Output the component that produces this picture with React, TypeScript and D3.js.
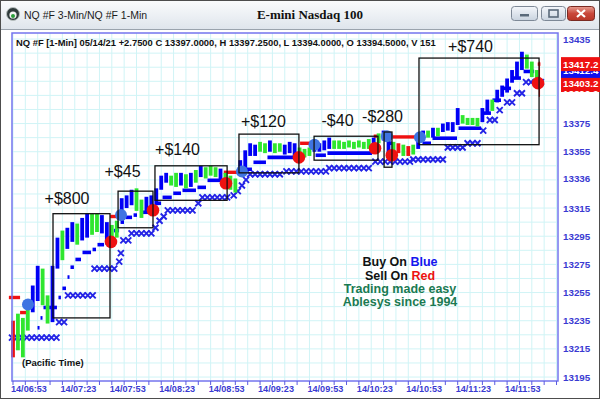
import React from "react";
import * as d3 from "d3";

const W = 600;
const H = 399;

// axis labels
const timeLabels = ["14/06:53", "14/07:23", "14/07:53", "14/08:23", "14/08:53", "14/09:23",
  "14/09:53", "14/10:23", "14/10:53", "14/11:23", "14/11:53"];
const priceLabels = [13435, 13375, 13355, 13336, 13315, 13295, 13275, 13255, 13235, 13215, 13195];

// price bars, one every 3 minutes after 06:53 (Pacific)
const barHigh = [13235, 13240, 13237, 13246, 13260, 13274, 13272, 13253, 13274, 13294,
  13299, 13301, 13305, 13304, 13308, 13311, 13311, 13311, 13310, 13305,
  13303, 13306, 13322, 13324, 13328, 13329, 13321, 13323, 13324, 13329,
  13338, 13340, 13338, 13340, 13340, 13339, 13340, 13342, 13345, 13344,
  13345, 13344, 13343, 13340, 13338, 13336, 13349, 13356, 13361, 13360,
  13362, 13361, 13363, 13361, 13361, 13360, 13362, 13361, 13358, 13357,
  13358, 13362, 13361, 13363, 13365, 13363, 13363, 13362, 13363, 13362,
  13363, 13362, 13364, 13365, 13368, 13370, 13363, 13362, 13361, 13360,
  13359, 13360, 13365, 13370, 13370, 13372, 13372, 13375, 13376, 13376,
  13386, 13381, 13379, 13379, 13379, 13386, 13392, 13392, 13399, 13402,
  13407, 13413, 13419, 13426, 13424, 13419, 13413];
const barLow = [13209, 13214, 13209, 13228, 13241, 13249, 13246, 13233, 13234, 13272,
  13278, 13286, 13291, 13289, 13292, 13294, 13296, 13298, 13297, 13290,
  13289, 13294, 13306, 13315, 13317, 13313, 13308, 13312, 13313, 13317,
  13328, 13333, 13331, 13330, 13331, 13329, 13330, 13333, 13337, 13336,
  13338, 13337, 13335, 13329, 13328, 13326, 13338, 13343, 13352, 13352,
  13355, 13354, 13355, 13354, 13355, 13353, 13354, 13351, 13350, 13351,
  13352, 13355, 13355, 13356, 13357, 13357, 13357, 13357, 13358, 13357,
  13358, 13357, 13357, 13357, 13361, 13363, 13352, 13354, 13354, 13352,
  13352, 13353, 13357, 13363, 13365, 13365, 13366, 13369, 13370, 13369,
  13374, 13375, 13374, 13374, 13373, 13376, 13383, 13384, 13390, 13394,
  13397, 13404, 13408, 13413, 13414, 13408, 13402];
const barColor = ("rgggbbggbb" + "gbbgbbggbb" + "ggbbbggbbb" + "bbggbgbgbg" + "ggbgggbbbb" +
  "ggbggbbbgg" + "gbbbbggggg" + "gggbgbbgrg" + "rgbbgbgbbb" + "bggggbbgbb" + "bbbbggg").split("");
const barMinute = d3.range(0, 319, 3);

// trades: entry / exit minute, box high / low, result
const tradeFrom = [24.3, 63.8, 86.2, 137.2, 182.8, 225.3, 246.5];
const tradeTo = [58.9, 85, 130, 173.6, 221.6, 230.1, 319.4];
const tradeHigh = [13311, 13327, 13345, 13367.5, 13366, 13369, 13421.5];
const tradeLow = [13237, 13301, 13320.5, 13340, 13349, 13344, 13360];
const tradeResult = ["+$800", "+$45", "+$140", "+$120", "-$40", "-$280", "+$740"];

// signals [minute, price]
const buySignals = [[9.1, 13246.5], [65.6, 13310], [139, 13341], [183, 13360], [227, 13366], [247.1, 13365.3]];
const sellSignals = [[59.5, 13291], [85, 13313.4], [129.3, 13332.6], [173.6, 13351], [219.8, 13357.5], [230, 13352.5], [318.8, 13403.7]];

// stop levels [from minute, to minute, price]
const longStop = [
  [14.6, 16.4, 13230], [16.4, 18.2, 13237], [18.2, 27.3, 13244.4], [27.3, 29.7, 13251.5], [29.7, 32.8, 13258],
  [32.8, 34.6, 13266], [34.6, 37.6, 13273], [37.6, 41.9, 13278.5], [41.9, 48, 13283.5], [48, 51, 13285.6],
  [51, 55.9, 13289], [55.9, 58.9, 13290],
  [61, 65, 13299], [65, 68, 13305], [68, 72.9, 13308.4], [72.9, 75.9, 13310], [77, 83, 13312],
  [86.8, 90.5, 13318.4], [90.5, 97, 13322.6], [97, 102.6, 13325.5], [102.6, 111.7, 13327.6], [111.7, 117.8, 13329.7], [117.8, 127.5, 13334.7],
  [139.6, 145.7, 13342.5], [145.7, 154.2, 13347.5], [154.2, 174.3, 13351],
  [183.4, 190.6, 13352.5], [190.6, 218.6, 13354],
  [227, 230.7, 13361],
  [248.3, 254.4, 13361], [254.4, 270.2, 13364.6], [270.2, 284.8, 13371.7], [284.8, 290.8, 13382.4],
  [290.8, 296.9, 13391.6], [296.9, 303, 13400], [303, 309, 13407.3], [309.7, 317, 13412]
];
const trailX = [
  [-0.6, 27.3, 13223], [28, 32.8, 13234], [33.4, 48.6, 13253], [49.5, 63.8, 13272], [64.5, 64.5, 13277], [65.5, 65.5, 13283],
  [67, 71, 13292], [72, 85, 13297], [86.5, 86.5, 13301], [89, 89, 13306], [91.5, 91.5, 13309], [94, 111.7, 13313.4],
  [112.5, 112.5, 13318.4], [115, 131.8, 13322.6], [134, 134, 13324], [136.5, 136.5, 13327], [139, 139, 13331], [141.5, 141.5, 13335],
  [144, 164, 13339], [166, 190.6, 13341], [192, 218.6, 13343.3], [220, 241, 13348], [243, 262, 13349.5],
  [264, 274, 13358], [276, 283, 13361], [285.5, 287.5, 13370], [289.5, 293.5, 13377.5], [295.5, 298, 13384.5],
  [300, 304.5, 13390], [306, 309, 13396.5], [311.5, 323, 13404.4]
];
const shortStop = [
  [-2.5, 4.3, 13251.5], [4.3, 9.1, 13240.8], [59, 64, 13309], [84, 88, 13313], [128, 136, 13340.4],
  [174.3, 181.5, 13361], [219, 222, 13366], [230.5, 247, 13365.5], [318.6, 320.2, 13417.2]
];
const lastExitWick = [13419, 13394];

// price flags on the right axis
const flagValues = [13396.2, 13403.2, 13412.4, 13417.2];
const flagColors = ["#ee1111", "#ee1111", "#1010ee", "#ee1111"];

// trade label nudges (px)
const labelDx = [-14.5, -13, -13.5, -5.5, -8.5, -5.5, -8.5];
const labelDy = [10, 14, 11, 7, 10, 10, 6];

const BLUE = "#0000f5";
const GREEN = "#2fe62f";
const RED = "#ee1111";
const AXIS = "#3a3ad2";
const FONT = "Liberation Sans, Arial, sans-serif";

export default function App() {
  const left = 12, right = 558, top = 33, bottom = 381;
  const x = d3.scaleLinear().domain([-0.6, 330.9]).range([left, right]);
  const y = d3.scaleLinear().domain([13192.2, 13439.3]).range([bottom, top]);

  const gridX = d3.range(0, 331, 7.5);
  const gridY = d3.range(13195, 13440, 10);

  const xMark = (cx: number, cy: number, k: string) => (
    <path key={k} d={`M${cx - 3},${cy - 3}L${cx + 3},${cy + 3}M${cx - 3},${cy + 3}L${cx + 3},${cy - 3}`}
      stroke="#2424e6" strokeWidth={1.9} />
  );

  return (
    <svg width={W} height={H} style={{ position: "absolute", left: 0, top: 0, display: "block", background: "#fff" }}>
      <defs>
        <linearGradient id="tb" x1="0" y1="0" x2="0" y2="1">
          <stop offset="0" stopColor="#fbfcfd" />
          <stop offset="1" stopColor="#dfe5ec" />
        </linearGradient>
        <linearGradient id="btn" x1="0" y1="0" x2="0" y2="1">
          <stop offset="0" stopColor="#f4f7fb" />
          <stop offset="1" stopColor="#c9d3df" />
        </linearGradient>
        <linearGradient id="cls" x1="0" y1="0" x2="0" y2="1">
          <stop offset="0" stopColor="#e8a093" />
          <stop offset="0.5" stopColor="#c9483b" />
          <stop offset="1" stopColor="#b73527" />
        </linearGradient>
        <clipPath id="flags"><rect x={555} y={56} width={45} height={36} /></clipPath>
      </defs>

      {/* window chrome */}
      <rect x={0} y={0} width={W} height={29} fill="url(#tb)" />
      <rect x={0.5} y={0.5} width={W - 1} height={H - 1} fill="none" stroke="#4d4d4d" />
      <line x1={1} x2={W - 1} y1={29.5} y2={29.5} stroke="#9aa3ad" />
      <circle cx={13} cy={14} r={6.5} fill="#2f3b3b" stroke="#b8c0c0" />
      <circle cx={13} cy={15} r={3.6} fill="#f4f4f4" />
      <circle cx={13} cy={16} r={2} fill="#2a9d3a" />
      <text x={24} y={18.5} fontFamily={FONT} fontSize={10.5} fill="#1c1c1c">NQ #F 3-Min/NQ #F 1-Min</text>
      <text x={310} y={19} textAnchor="middle" fontFamily="Liberation Serif, Times New Roman, serif" fontWeight="bold" fontSize={13} fill="#111">E-mini Nasdaq 100</text>
      <rect x={511.5} y={6.5} width={26} height={14} rx={3} fill="url(#btn)" stroke="#7d8896" />
      <rect x={520} y={14} width={9} height={2.5} fill="#5a6a7a" />
      <rect x={541.5} y={6.5} width={24} height={14} rx={3} fill="url(#btn)" stroke="#7d8896" />
      <rect x={549} y={10} width={9} height={7} fill="none" stroke="#5a6a7a" strokeWidth={1.6} />
      <rect x={567.5} y={6.5} width={27} height={14} rx={3} fill="url(#cls)" stroke="#7a2a22" />
      <path d="M577,10L585,17M585,10L577,17" stroke="#fff" strokeWidth={2.2} />

      {/* grid */}
      {gridX.map((m, i) => (
        <line key={"gx" + i} x1={x(m)} x2={x(m)} y1={top} y2={bottom} stroke="#d0f4f6" strokeWidth={1} />
      ))}
      {gridY.map((p, i) => (
        <line key={"gy" + i} x1={left} x2={right} y1={y(p)} y2={y(p)} stroke="#d0f4f6" strokeWidth={1} />
      ))}

      {/* trailing X stop */}
      {trailX.map(([a, b, p], i) =>
        d3.range(a, b + 0.01, 3).map((m, j) => xMark(x(m), y(p), `tx${i}-${j}`))
      )}

      {/* long stop dashes */}
      {longStop.map(([a, b, p], i) => (
        <line key={"ls" + i} x1={x(a) + 0.5} x2={Math.max(x(b) - 1, x(a) + 2.5)} y1={y(p)} y2={y(p)} stroke={BLUE} strokeWidth={3.6} />
      ))}

      {/* short stop dashes */}
      {shortStop.map(([a, b, p], i) => (
        <line key={"ss" + i} x1={x(a)} x2={x(b)} y1={y(p)} y2={y(p)} stroke={RED} strokeWidth={3.4} />
      ))}

      {/* price bars */}
      {barMinute.map((m, i) => (
        <rect key={"b" + i} x={x(m) - 1.9} width={3.8} y={y(barHigh[i])} height={Math.max(1.5, y(barLow[i]) - y(barHigh[i]))}
          fill={barColor[i] === "b" ? BLUE : barColor[i] === "g" ? GREEN : RED} />
      ))}
      <line x1={x(319.6)} x2={x(319.6)} y1={y(lastExitWick[0])} y2={y(lastExitWick[1])} stroke={RED} strokeWidth={1.3} />

      {/* signals */}
      {buySignals.map(([m, p], i) => (
        <circle key={"buy" + i} cx={x(m)} cy={y(p)} r={6} fill="#3f74e2" />
      ))}
      {sellSignals.map(([m, p], i) => (
        <circle key={"sell" + i} cx={x(m)} cy={y(p)} r={6.3} fill={RED} />
      ))}

      {/* trade boxes */}
      {tradeResult.map((t, i) => {
        const x0 = x(tradeFrom[i]), x1 = x(tradeTo[i]);
        const y0 = y(tradeHigh[i]), y1 = y(tradeLow[i]);
        return (
          <g key={"t" + i}>
            <rect x={x0} y={y0} width={x1 - x0} height={y1 - y0} fill="none" stroke="#111" strokeWidth={1.3} />
            <text x={(x0 + x1) / 2 + labelDx[i]} y={y0 - labelDy[i]} textAnchor="middle"
              fontFamily={FONT} fontSize={16} fill="#111">{t}</text>
          </g>
        );
      })}

      {/* plot frame */}
      <rect x={left} y={top} width={right - left} height={bottom - top} fill="none" stroke="#7474ee" strokeWidth={1.5} />

      {/* header */}
      <text x={16} y={46} fontFamily={FONT} fontWeight="bold" fontSize={9.4} fill="#111">
        NQ #F [1-Min] 05/14/21  +2.7500 C 13397.0000, H 13397.2500, L 13394.0000, O 13394.5000, V 151
      </text>

      {/* price axis */}
      {priceLabels.map((p, i) => (
        <text key={"pl" + i} x={563} y={y(p) + 3.5} fontFamily={FONT} fontWeight="bold" fontSize={9.8} fill={AXIS}>{p}</text>
      ))}
      <g clipPath="url(#flags)">
        {flagValues.map((v, i) => (
          <g key={"f" + i}>
            <rect x={561} y={y(v) - 7} width={40} height={14} fill={flagColors[i]} />
            <text x={563} y={y(v) + 3.6} fontFamily={FONT} fontWeight="bold" fontSize={9.8} fill="#fff">{v.toFixed(1)}</text>
          </g>
        ))}
      </g>

      {/* time axis */}
      {gridX.map((m, i) => (
        <line key={"tk" + i} x1={x(m)} x2={x(m)} y1={bottom} y2={bottom + 4} stroke="#5a5ae0" strokeWidth={1} />
      ))}
      {timeLabels.map((t, i) => (
        <text key={"tl" + i} x={x(i * 30) - 2} y={392} fontFamily={FONT} fontWeight="bold" fontSize={9.1} fill={AXIS}>{t}</text>
      ))}

      {/* notes */}
      <text x={22} y={366} fontFamily={FONT} fontWeight="bold" fontSize={9.5} fill="#111">(Pacific Time)</text>
      <g fontFamily={FONT} fontWeight="bold" fontSize={12.5} textAnchor="middle">
        <text x={400} y={266} fill="#111">Buy On <tspan fill="#1515ee">Blue</tspan></text>
        <text x={400} y={279.5} fill="#111">Sell On <tspan fill={RED}>Red</tspan></text>
        <text x={400} y={293} fill="#1a7a52">Trading made easy</text>
        <text x={400} y={306} fill="#1a7a52">Ablesys since 1994</text>
      </g>
    </svg>
  );
}
